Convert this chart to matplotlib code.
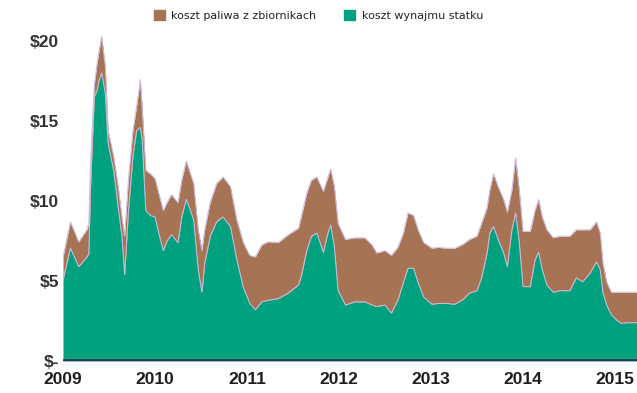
import matplotlib.pyplot as plt
import numpy as np

# Weekly-ish cost series, USD per unit, by decimal year
years = [2009.00, 2009.08, 2009.17, 2009.26, 2009.28, 2009.30, 2009.34, 2009.37, 2009.39, 2009.42,
         2009.46, 2009.49, 2009.55, 2009.60, 2009.64, 2009.67, 2009.71, 2009.76, 2009.80, 2009.84,
         2009.86, 2009.90, 2009.95, 2010.00, 2010.04, 2010.09, 2010.13, 2010.18, 2010.22, 2010.25,
         2010.29, 2010.34, 2010.38, 2010.42, 2010.47, 2010.51, 2010.54, 2010.60, 2010.67, 2010.74,
         2010.82, 2010.89, 2010.96, 2011.03, 2011.09, 2011.16, 2011.23, 2011.34, 2011.45, 2011.56,
         2011.59, 2011.65, 2011.70, 2011.76, 2011.83, 2011.88, 2011.91, 2011.95, 2011.99, 2012.07,
         2012.17, 2012.28, 2012.36, 2012.41, 2012.50, 2012.57, 2012.64, 2012.70, 2012.75, 2012.81,
         2012.86, 2012.92, 2013.01, 2013.08, 2013.17, 2013.26, 2013.35, 2013.42, 2013.50, 2013.55,
         2013.61, 2013.64, 2013.68, 2013.73, 2013.79, 2013.83, 2013.88, 2013.92, 2013.96, 2014.00,
         2014.08, 2014.13, 2014.17, 2014.21, 2014.26, 2014.33, 2014.40, 2014.51, 2014.58, 2014.65,
         2014.73, 2014.80, 2014.84, 2014.87, 2014.91, 2014.96, 2015.02, 2015.07, 2015.13, 2015.24]

charter = [5.06, 7.06, 5.9, 6.5, 6.7, 11.0, 16.5, 16.9, 17.5, 18.0,
           16.7, 13.6, 11.9, 9.6, 7.8, 5.4, 9.25, 12.8, 14.4, 14.6,
           13.8, 9.4, 9.1, 9.0, 8.0, 6.9, 7.5, 7.9, 7.6, 7.4,
           9.0, 10.1, 9.5, 8.8, 5.7, 4.3, 6.1, 7.8, 8.7, 9.0,
           8.4, 6.3, 4.6, 3.6, 3.2, 3.7, 3.8, 3.9, 4.25, 4.75,
           5.3, 6.9, 7.8, 8.0, 6.8, 8.0, 8.5, 7.1, 4.4, 3.5,
           3.7, 3.7, 3.5, 3.4, 3.5, 3.0, 3.8, 4.9, 5.8, 5.8,
           4.9, 4.0, 3.55, 3.6, 3.6, 3.55, 3.85, 4.25, 4.4, 5.2,
           6.75, 8.0, 8.4, 7.6, 6.75, 5.9, 8.2, 9.25, 7.4, 4.65,
           4.65, 6.3, 6.8, 5.7, 4.75, 4.3, 4.4, 4.4, 5.2, 4.95,
           5.5, 6.2, 5.7, 4.25, 3.5, 2.9, 2.55, 2.35, 2.4, 2.4]

fuel = [1.44, 1.64, 1.55, 1.7, 1.9, 1.5, 0.75, 1.7, 1.8, 2.3,
        1.7, 0.8, 0.9, 1.3, 1.2, 2.4, 2.05, 1.6, 1.5, 3.0,
        2.1, 2.5, 2.6, 2.4, 2.5, 2.5, 2.4, 2.5, 2.5, 2.5,
        2.3, 2.4, 2.3, 2.3, 2.5, 2.6, 2.1, 2.1, 2.4, 2.5,
        2.5, 2.5, 2.8, 3.0, 3.3, 3.55, 3.65, 3.5, 3.65, 3.55,
        3.7, 3.6, 3.5, 3.5, 3.8, 3.5, 3.5, 3.8, 4.2, 4.1,
        4.0, 4.0, 3.75, 3.35, 3.4, 3.6, 3.3, 3.1, 3.45, 3.3,
        3.3, 3.4, 3.5, 3.5, 3.45, 3.5, 3.45, 3.35, 3.4, 3.4,
        2.85, 2.7, 3.3, 3.3, 3.35, 3.4, 2.5, 3.45, 3.3, 3.45,
        3.45, 3.1, 3.3, 3.3, 3.45, 3.4, 3.4, 3.4, 3.0, 3.25,
        2.7, 2.5, 2.3, 1.85, 1.45, 1.4, 1.75, 1.95, 1.9, 1.9]

series_labels = ["koszt paliwa z zbiornikach", "koszt wynajmu statku"]
year_ticks = [2009, 2010, 2011, 2012, 2013, 2014, 2015]
value_ticks = [0, 5, 10, 15, 20]
value_labels = ["$-", "$5", "$10", "$15", "$20"]

green = "#00a17f"
brown = "#a67454"
edge = "#cdbbe0"

x = np.array(years)
low = np.array(charter)
top = low + np.array(fuel)

fig = plt.figure(figsize=(6.37, 3.93), dpi=100)
ax = fig.add_axes([63 / 637, 32 / 393, 574 / 637, 336 / 393])

ax.fill_between(x, 0, low, color=green, lw=0)
ax.fill_between(x, low, top, color=brown, lw=0)
ax.plot(x, low, color=edge, lw=0.7)
ax.plot(x, top, color=edge, lw=0.7)
ax.axhline(0, color="#3b2b55", lw=2.6)

ax.set_xlim(2009, 2015.24)
ax.set_ylim(0, 21)
for s in ax.spines.values():
    s.set_visible(False)

ax.set_xticks(year_ticks)
ax.set_xticklabels([str(y) for y in year_ticks])
ax.set_yticks(value_ticks)
ax.set_yticklabels(value_labels)
ax.tick_params(length=0)
ax.tick_params(axis="x", pad=8, labelsize=12.5, labelcolor="#1e1e1e")
ax.tick_params(axis="y", pad=3, labelsize=12.5, labelcolor="#333333")
for lab in ax.get_xticklabels() + ax.get_yticklabels():
    lab.set_fontfamily("Liberation Sans")
    lab.set_fontweight("bold")

handles = [plt.Rectangle((0, 0), 1, 1, color=brown), plt.Rectangle((0, 0), 1, 1, color=green)]
fig.legend(handles, series_labels, loc="upper center", bbox_to_anchor=(0.5, 1.0), ncol=2,
           frameon=False, fontsize=8, handlelength=1.0, handleheight=1.0,
           columnspacing=2.5, handletextpad=0.6, labelcolor="#222222")

fig.savefig("out.png", dpi=100)
